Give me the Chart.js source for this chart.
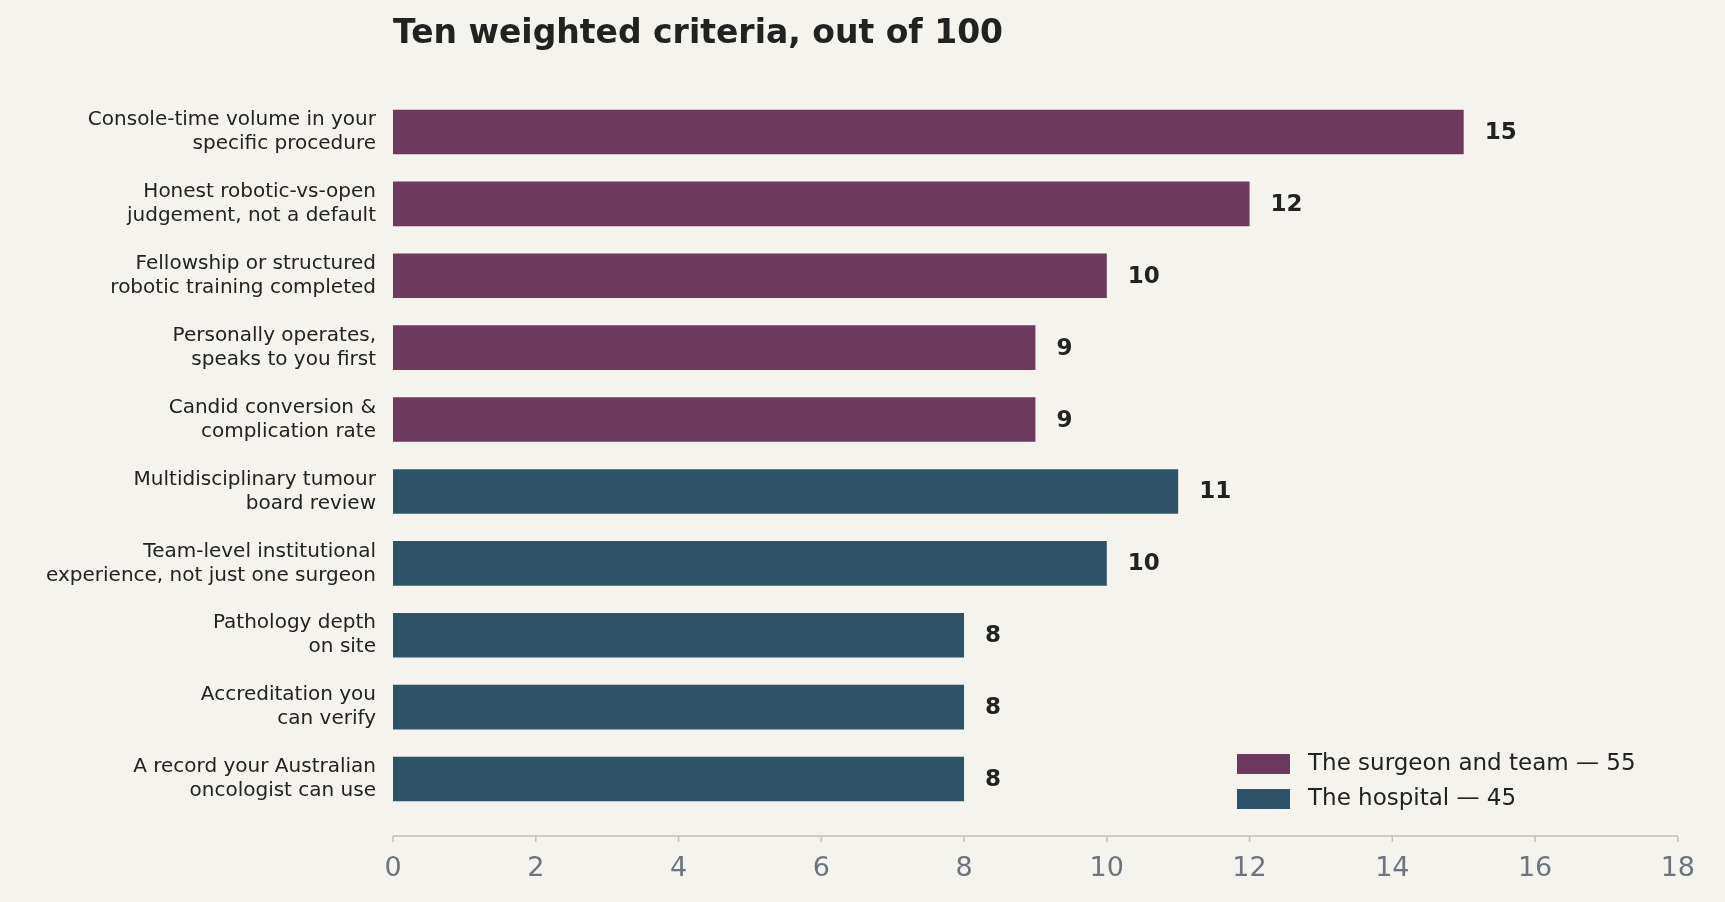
<!DOCTYPE html>
<html><head><meta charset="utf-8">
<script src="https://cdn.jsdelivr.net/npm/chart.js@4"></script>
<style>html,body{margin:0;background:#f4f3ee}#wrap{width:1725px;height:902px}</style>
</head><body><div id="wrap"><canvas id="c"></canvas></div>
<script>
const labels = [
  ['Console-time volume in your', 'specific procedure'],
  ['Honest robotic-vs-open', 'judgement, not a default'],
  ['Fellowship or structured', 'robotic training completed'],
  ['Personally operates,', 'speaks to you first'],
  ['Candid conversion &', 'complication rate'],
  ['Multidisciplinary tumour', 'board review'],
  ['Team-level institutional', 'experience, not just one surgeon'],
  ['Pathology depth', 'on site'],
  ['Accreditation you', 'can verify'],
  ['A record your Australian', 'oncologist can use']
];
const surgeonScores = [15, 12, 10, 9, 9, null, null, null, null, null];
const hospitalScores = [null, null, null, null, null, 11, 10, 8, 8, 8];
const seriesNames = ['The surgeon and team — 55', 'The hospital — 45'];
const colors = ['#6b3a5c', '#2e5266'];

const extras = {
  id: 'extras',
  afterDraw(chart) {
    const ctx = chart.ctx, a = chart.chartArea, xs = chart.scales.x;
    ctx.save();
    // title
    ctx.fillStyle = '#222';
    ctx.font = 'bold 33px "DejaVu Sans"';
    ctx.textBaseline = 'middle';
    ctx.textAlign = 'left';
    ctx.fillText('Ten weighted criteria, out of 100', a.left, 34);
    // axis line
    const ay = a.bottom + 21;
    ctx.strokeStyle = '#c8bfa8';
    ctx.lineWidth = 1.5;
    ctx.beginPath(); ctx.moveTo(a.left, ay); ctx.lineTo(a.right, ay); ctx.stroke();
    xs.ticks.forEach(t => {
      const px = xs.getPixelForValue(t.value);
      ctx.beginPath(); ctx.moveTo(px, ay); ctx.lineTo(px, ay + 6); ctx.stroke();
    });
    // value labels
    ctx.font = 'bold 23px "DejaVu Sans"';
    ctx.fillStyle = '#222';
    chart.data.datasets.forEach((ds, i) => {
      chart.getDatasetMeta(i).data.forEach((bar, j) => {
        if (ds.data[j] == null) return;
        ctx.fillText(String(ds.data[j]), bar.x + 21, bar.y + 1);
      });
    });
    // legend
    ctx.font = '23px "DejaVu Sans"';
    seriesNames.forEach((n, i) => {
      const y = 764 + i * 35;
      ctx.fillStyle = colors[i];
      ctx.fillRect(1237, y - 10, 53, 20);
      ctx.fillStyle = '#222';
      ctx.fillText(n, 1308, y);
    });
    ctx.restore();
  }
};

new Chart(document.getElementById('c'), {
  type: 'bar',
  data: {
    labels: labels,
    datasets: [
      { label: seriesNames[0], data: surgeonScores, backgroundColor: colors[0], barPercentage: 0.62, categoryPercentage: 1 },
      { label: seriesNames[1], data: hospitalScores, backgroundColor: colors[1], barPercentage: 0.62, categoryPercentage: 1 }
    ]
  },
  options: {
    indexAxis: 'y',
    responsive: true,
    maintainAspectRatio: false,
    animation: false,
    layout: { padding: { top: 96, right: 25, left: 0, bottom: 0 } },
    plugins: { legend: { display: false }, tooltip: { enabled: false } },
    scales: {
      x: {
        min: 0, max: 18,
        grid: { display: false },
        border: { display: false },
        ticks: { stepSize: 2, color: '#6c757d', font: { size: 27, family: 'DejaVu Sans' }, padding: 30 },
        afterFit(s) { s.height = 87; }
      },
      y: {
        stacked: true,
        grid: { display: false },
        border: { display: false },
        ticks: { color: '#222', font: { size: 20, family: 'DejaVu Sans' }, padding: 9 },
        afterFit(s) { s.width = 393; }
      }
    }
  },
  plugins: [extras]
});
</script></body></html>
